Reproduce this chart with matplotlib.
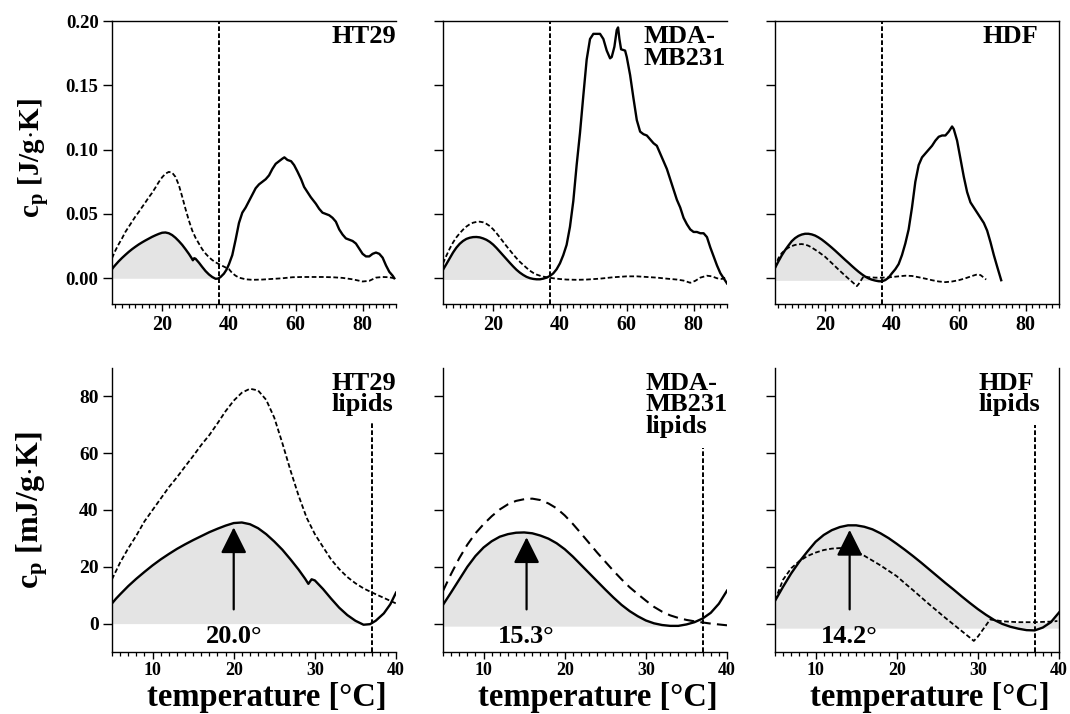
import numpy as np
import matplotlib
matplotlib.use("Agg")
import matplotlib.pyplot as plt
from matplotlib.ticker import FixedLocator, MultipleLocator, FormatStrFormatter

# ---------------- data ----------------
top_labels = ["HT29", "MDA-\nMB231", "HDF"]
bottom_labels = ["HT29\nlipids", "MDA-\nMB231\nlipids", "HDF\nlipids"]
peak_temps = [20.0, 15.3, 14.2]
peak_heights = [33.9, 30.4, 33.0]          # mJ/g.K, arrow tip
peak_texts = ["20.0°", "15.3°", "14.2°"]
body_temp = 37.0

# lipid range (5-40 °C), mJ/g.K : solid = first scan, dashed = second scan
lip_solid_x = [
    [5, 5.5, 6, 7, 8, 9, 10, 11, 12, 13, 14, 15, 16, 17, 18, 19, 20, 21, 22, 23, 24, 25, 26, 27, 28,
     28.8, 29.2, 29.6, 30, 31, 32, 33, 34, 35, 36, 36.8, 37.5, 38.5, 39.3, 40],
    [5, 6, 7, 8, 9, 10, 11, 12, 13, 14, 15, 16, 17, 18, 19, 20, 21, 22, 23, 24, 25, 26, 27, 28, 29,
     30, 31, 32, 33, 34, 35, 36, 37, 38, 39, 40],
    [5, 6, 7, 8, 9, 10, 11, 12, 13, 14, 15, 16, 17, 18, 19, 20, 21, 22, 23, 24, 25, 26, 27, 28, 29,
     30, 31, 32, 33, 34, 35, 36, 37, 38, 39, 40],
]
lip_solid_y = [
    [7.1, 8.8, 10.3, 13.2, 15.8, 18.2, 20.5, 22.6, 24.5, 26.3, 27.9, 29.4, 30.8, 32.2, 33.4, 34.5, 35.4, 35.6, 35.0, 33.6, 31.5,
     28.9, 26.0, 22.6, 19.0, 15.8, 14.0, 15.6, 15.2, 12.2, 8.8, 5.6, 3.0, 1.0, -0.4, -0.2, 1.0, 3.6, 6.8, 10.9],
    [6.6, 11.0, 15.5, 20.0, 23.8, 26.8, 29.0, 30.6, 31.5, 32.0, 32.1, 31.8, 31.0, 29.9, 28.3, 26.2, 23.6, 20.7, 17.8,
     14.9, 12.0, 9.2, 6.6, 4.4, 2.6, 1.1, 0.1, -0.5, -0.8, -0.8, -0.3, 0.5, 1.8, 3.8, 7.0, 11.6],
    [8.0, 13.0, 17.7, 21.8, 25.4, 28.8, 31.2, 32.9, 34.0, 34.6, 34.6, 34.1, 33.2, 31.8, 30.1, 28.1, 26.0, 23.8, 21.5,
     19.1, 16.7, 14.3, 12.0, 9.6, 7.3, 5.1, 3.1, 1.3, -0.1, -1.1, -1.8, -2.3, -2.4, -1.4, 0.5, 3.9],
]
lip_dash_x = [
    [5, 6, 7, 8, 9, 10, 11, 12, 13, 14, 15, 16, 17, 18, 19, 20, 21, 22, 23, 24, 25, 26, 27, 28, 29,
     30, 31, 32, 33, 34, 35, 36, 37, 38, 39, 40],
    [5, 6, 7, 8, 9, 10, 11, 12, 13, 14, 15, 16, 17, 18, 19, 20, 21, 22, 23, 24, 25, 26, 27, 28, 29,
     30, 31, 32, 33, 34, 35, 36, 37, 38, 39, 40],
    [5, 6, 7, 8, 9, 10, 11, 12, 13, 14, 15, 16, 17, 18, 19, 20, 21, 22, 23, 24, 25, 26, 27, 28, 29,
     29.5, 30, 30.5, 31, 31.5, 32, 33, 35, 37, 39, 39.8],
]
lip_dash_y = [
    [15.6, 21.5, 26.5, 31.0, 36.0, 40.0, 44.0, 48.0, 51.5, 55.3, 59.0, 62.9, 66.4, 70.5, 74.8, 78.5, 81.3, 82.7, 82.1,
     78.8, 72.5, 63.5, 53.9, 45.0, 37.2, 31.5, 27.0, 22.6, 19.2, 16.4, 14.2, 12.4, 11.0, 9.7, 8.4, 7.1],
    [11.5, 17.5, 23.0, 27.8, 31.8, 35.0, 37.8, 40.2, 42.0, 43.2, 43.8, 44.0, 43.5, 42.3, 40.6, 38.1, 35.1, 31.8, 28.4,
     25.0, 21.8, 18.6, 15.6, 12.8, 10.4, 8.1, 5.9, 4.2, 2.9, 2.0, 1.3, 0.8, 0.4, 0.0, -0.3, -0.6],
    [8.2, 15.5, 19.5, 22.0, 23.8, 25.0, 25.9, 26.4, 26.6, 26.2, 25.3, 23.9, 22.2, 20.5, 18.6, 16.7, 14.2, 11.8, 9.3,
     6.8, 4.4, 2.0, -0.3, -2.6, -4.9, -6.1, -4.6, -2.6, -0.6, 1.4, 1.3, 0.8, 0.5, 0.5, 0.7, 0.9],
]

# protein range (> 40 °C), J/g.K
prot_solid_x = [
    [41, 42, 43, 44, 45, 46, 47, 48, 49, 50, 51, 52, 53, 54, 55, 56, 56.6, 57.5, 58.6, 59.5, 60.5, 61.6, 62.5, 63.5,
     64.5, 66, 67, 68, 69, 70, 71, 72, 73, 74, 75, 76, 77, 78, 79, 80, 81, 82, 83, 84, 85, 86, 87, 88, 89, 89.5],
    [41, 42, 43, 44, 45, 46, 47, 48, 49, 50, 51, 52, 53, 54, 55, 55.5, 56.3, 57, 57.4, 57.8, 58.3, 59.5, 60, 61, 62, 63,
     64, 65, 66, 67, 68, 69, 70, 71, 72, 73, 74, 75, 76, 77, 78, 79, 80, 81, 82, 83, 84, 85, 86, 87, 88, 89, 90],
    [41, 42, 43, 44, 45, 46, 47, 48, 49, 50, 51, 52, 53, 54, 55, 56, 57, 58, 58.5, 59.5, 60.5, 61.5, 62.5, 63.5,
     64.5, 65.5, 66.5, 67.5, 68.5, 69.5, 70.5, 71.5, 72.7],
]
prot_solid_y = [
    [0.018, 0.030, 0.043, 0.051, 0.055, 0.060, 0.065, 0.070, 0.073, 0.075, 0.077, 0.080, 0.085, 0.089, 0.091, 0.093,
     0.094, 0.092, 0.091, 0.088, 0.083, 0.077, 0.071, 0.067, 0.063, 0.058, 0.054, 0.051, 0.050, 0.049, 0.047, 0.044,
     0.038, 0.034, 0.031, 0.030, 0.029, 0.027, 0.023, 0.019, 0.017, 0.017, 0.019, 0.020, 0.019, 0.016, 0.010, 0.005,
     0.002, 0.0],
    [0.018, 0.026, 0.040, 0.060, 0.088, 0.113, 0.142, 0.170, 0.186, 0.190, 0.190, 0.190, 0.186, 0.177, 0.171, 0.172,
     0.180, 0.193, 0.195, 0.186, 0.178, 0.177, 0.172, 0.158, 0.140, 0.123, 0.114, 0.112, 0.111, 0.108, 0.105, 0.103,
     0.097, 0.091, 0.085, 0.077, 0.069, 0.061, 0.055, 0.047, 0.042, 0.038, 0.036, 0.036, 0.035, 0.035, 0.032, 0.024,
     0.017, 0.010, 0.004, 0.0, -0.004],
    [0.007, 0.011, 0.018, 0.027, 0.038, 0.055, 0.075, 0.088, 0.094, 0.097, 0.100, 0.103, 0.107, 0.110, 0.111, 0.111,
     0.114, 0.118, 0.116, 0.107, 0.093, 0.079, 0.067, 0.059, 0.055, 0.051, 0.047, 0.043, 0.037, 0.028, 0.018, 0.009,
     -0.0015],
]
prot_dash_x = [
    [41, 42, 43, 45, 47, 50, 53, 56, 59, 62, 65, 68, 71, 74, 77, 80, 82, 84, 86, 88, 89.5],
    [42, 45, 48, 52, 56, 60, 63, 66, 69, 72, 75, 77, 79, 80.5, 82, 84, 85.5, 87, 88.5, 90],
    [42, 44, 46, 48, 50, 52, 54, 56, 58, 60, 62, 64, 65.5, 66.5, 67.5, 68.2],
]
prot_dash_y = [
    [0.004, 0.002, 0.0005, -0.0008, -0.0012, -0.001, -0.0005, 0.0, 0.0008, 0.001, 0.001, 0.001, 0.0008, 0.0003,
     -0.0008, -0.0025, -0.002, 0.0005, 0.001, 0.0008, 0.0],
    [-0.001, -0.0012, -0.001, -0.0003, 0.0008, 0.0015, 0.0015, 0.001, 0.0005, -0.0003, -0.001, -0.0018, -0.0035,
     -0.002, 0.0005, 0.002, 0.0015, 0.0, -0.0005, 0.001],
    [0.0015, 0.002, 0.0018, 0.0008, -0.0003, -0.0015, -0.0025, -0.003, -0.0025, -0.0015, 0.0, 0.0018, 0.003, 0.0025,
     0.0005, -0.001],
]

# ---------------- style ----------------
plt.rcParams["font.family"] = ["Liberation Serif", "DejaVu Serif"]
plt.rcParams["font.weight"] = "bold"
plt.rcParams["mathtext.fontset"] = "custom"
plt.rcParams["mathtext.rm"] = "Liberation Serif:bold"
plt.rcParams["mathtext.it"] = "Liberation Serif:bold"
plt.rcParams["mathtext.bf"] = "Liberation Serif:bold"

W, H = 1070, 714
fig = plt.figure(figsize=(W / 100, H / 100), dpi=100)

lefts = [112, 443, 775]
width = 284
fill_color = "#e4e4e4"
fill_base = [0.0, -0.9, -1.6]
fill_floor = [0.0, -0.9, 0.4]
fill_end = [36.5, 34.5, 40.5]
vline_top = [71, 62, 70]
label_x_top = [70.7, 65.0, 67.1]
label_x_bot = [32.0, 29.9, 30.1]

solid_kw = dict(color="k", lw=1.7, solid_joinstyle="round")
dash_kw = dict(color="k", lw=1.3, ls=(0, (2.6, 1.4)))
long_dash_kw = dict(color="k", lw=1.5, ls=(0, (5, 3)))
vline_kw = dict(color="k", lw=1.4, ls=(0, (2.4, 1.2)))


def style_axes(ax, show_top, show_right, labels_y, xsize, ysize, xpad):
    for s in ["left", "bottom", "top", "right"]:
        ax.spines[s].set_linewidth(1.0)
    ax.spines["top"].set_visible(show_top)
    ax.spines["right"].set_visible(show_right)
    ax.tick_params(axis="x", which="major", direction="out", length=5, width=1.0,
                   labelsize=xsize, pad=xpad, top=False)
    ax.tick_params(axis="x", which="minor", direction="out", length=2.6, width=0.9, top=False)
    ax.tick_params(axis="y", which="major", direction="out", length=6.7, width=1.0,
                   labelsize=ysize, pad=3, right=False, labelleft=labels_y)
    for lab in ax.get_xticklabels() + ax.get_yticklabels():
        lab.set_fontweight("bold")


for i in range(3):
    # ---------- top row: whole cells ----------
    axt = fig.add_axes([lefts[i] / W, 1 - 304 / H, width / W, 283 / H])
    lx = np.array(lip_solid_x[i], float)
    ly = np.array(lip_solid_y[i], float)
    dx = np.array(lip_dash_x[i], float)
    dy = np.array(lip_dash_y[i], float)

    sx = np.concatenate([lx, prot_solid_x[i]])
    sy = np.concatenate([ly / 1000.0, prot_solid_y[i]])
    tx = np.concatenate([dx, prot_dash_x[i]])
    ty = np.concatenate([dy / 1000.0, prot_dash_y[i]])

    upper = np.maximum(ly, fill_floor[i])
    mask_t = lx <= min(fill_end[i], body_temp)
    axt.fill_between(lx, fill_base[i] / 1000.0, upper / 1000.0,
                     where=(upper > fill_base[i]) & mask_t, interpolate=True,
                     color=fill_color, lw=0, zorder=0)
    axt.plot(sx, sy, **solid_kw, zorder=3)
    axt.plot(tx, ty, **dash_kw, zorder=3)
    axt.axvline(body_temp, **vline_kw, zorder=2)

    axt.set_xlim(5, 90)
    axt.set_ylim(-0.02, 0.20)
    axt.xaxis.set_major_locator(FixedLocator([20, 40, 60, 80]))
    axt.xaxis.set_minor_locator(MultipleLocator(2))
    axt.yaxis.set_major_locator(FixedLocator([0.0, 0.05, 0.10, 0.15, 0.20]))
    axt.yaxis.set_major_formatter(FormatStrFormatter("%.2f"))
    style_axes(axt, True, i == 2, i == 0, 14.5, 13.5, 3)
    axt.text(label_x_top[i], 0.197, top_labels[i], ha="left", va="top",
             fontsize=19, fontweight="bold", linespacing=0.95)

    # ---------- bottom row: lipids ----------
    axb = fig.add_axes([lefts[i] / W, 1 - 652 / H, width / W, 284 / H])
    mask_b = lx <= fill_end[i]
    axb.fill_between(lx, fill_base[i], upper, where=(upper > fill_base[i]) & mask_b,
                     interpolate=True, color=fill_color, lw=0, zorder=0)
    axb.plot(lx, ly, **solid_kw, zorder=3)
    axb.plot(dx, dy, **(long_dash_kw if i == 1 else dash_kw), zorder=3)
    axb.vlines(body_temp, -10, vline_top[i], **vline_kw, zorder=2)

    axb.annotate("", xy=(peak_temps[i], peak_heights[i]), xytext=(peak_temps[i], 5),
                 arrowprops=dict(arrowstyle="-|>,head_length=0.8,head_width=0.4",
                                 mutation_scale=20, color="k", lw=1.6,
                                 shrinkA=0, shrinkB=0), zorder=4)
    axb.text(peak_temps[i], -6.7, peak_texts[i], ha="center", va="baseline",
             fontsize=19, fontweight="bold", zorder=4)

    axb.set_xlim(5, 40)
    axb.set_ylim(-10, 90)
    axb.xaxis.set_major_locator(FixedLocator([10, 20, 30, 40]))
    axb.xaxis.set_minor_locator(MultipleLocator(1))
    axb.yaxis.set_major_locator(FixedLocator([0, 20, 40, 60, 80]))
    style_axes(axb, False, i == 2, i == 0, 13, 14, 2.5)
    axb.text(label_x_bot[i], 88.5, bottom_labels[i], ha="left", va="top",
             fontsize=19, fontweight="bold", linespacing=0.9)

    # x label
    fig.text((lefts[i] + width / 2 + 13) / W, 1 - 706 / H, "temperature [°C]",
             ha="center", va="baseline", fontsize=23.5, fontweight="bold")

# y labels
fig.text(34 / W, 1 - 158 / H, r"c$_\mathrm{p}$ [J/g$\cdot$K]", rotation=90,
         ha="center", va="center", fontsize=21, fontweight="bold")
fig.text(32 / W, 1 - 510 / H, r"c$_\mathrm{p}$ [mJ/g$\cdot$K]", rotation=90,
         ha="center", va="center", fontsize=23, fontweight="bold")

fig.savefig("out.png", dpi=100)
